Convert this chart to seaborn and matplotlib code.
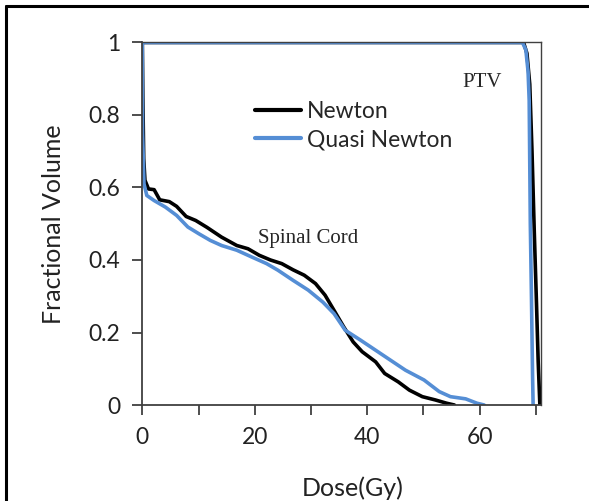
import numpy as np
import pandas as pd
import matplotlib
matplotlib.use("Agg")
import matplotlib.pyplot as plt
from matplotlib.lines import Line2D
import seaborn as sns

# ---- data ----
cord_newton_dose = [0, 0.1, 0.25, 0.47, 1.1, 2.1, 3.1, 4.8, 6.1, 7.8, 9.5, 11.5, 14.1, 16.8, 18.8,
                    20.8, 22.8, 24.8, 26.8, 28.8, 30.8, 32.5, 34.1, 35.8, 37.5, 39.1, 41.5, 43.1,
                    45.5, 47.5, 49.8, 52.1, 54.1, 55.5]
cord_newton_vol = [1.0, 0.85, 0.68, 0.62, 0.596, 0.594, 0.566, 0.561, 0.548, 0.52, 0.509, 0.49, 0.463,
                   0.44, 0.431, 0.413, 0.40, 0.39, 0.373, 0.358, 0.335, 0.303, 0.261, 0.216, 0.174,
                   0.147, 0.119, 0.087, 0.064, 0.041, 0.023, 0.014, 0.005, 0.0]

cord_quasi_dose = [0, 0.05, 0.3, 0.8, 2.1, 4.1, 6.1, 8.1, 10.1, 12.1, 14.1, 16.8, 19.5, 22.1, 24.1,
                   26.8, 29.5, 32.1, 34.1, 36.1, 38.8, 41.5, 44.1, 46.8, 50.1, 52.8, 54.8, 57.5,
                   59.5, 60.8]
cord_quasi_vol = [1.0, 0.75, 0.61, 0.578, 0.564, 0.546, 0.523, 0.491, 0.472, 0.454, 0.44, 0.427,
                  0.408, 0.39, 0.372, 0.344, 0.317, 0.284, 0.252, 0.206, 0.179, 0.151, 0.124, 0.096,
                  0.069, 0.037, 0.023, 0.017, 0.005, 0.0]

ptv_newton_dose = [0, 67.8, 68.4, 68.9, 69.3, 69.7, 70.1, 70.4, 70.7]
ptv_newton_vol = [1.0, 1.0, 0.97, 0.885, 0.7, 0.48, 0.28, 0.12, 0.0]

ptv_quasi_dose = [0, 67.6, 68.2, 68.6, 68.8, 69.0, 69.2, 69.4, 69.5]
ptv_quasi_vol = [1.0, 1.0, 0.98, 0.92, 0.84, 0.5, 0.3, 0.08, 0.0]

methods = ["Newton", "Quasi Newton"]
colors = {"Newton": "#000000", "Quasi Newton": "#558ED5"}
xticks = [0, 10, 20, 30, 40, 50, 60, 70]
xticklabels = ["0", "", "20", "", "40", "", "60", ""]
yticks = [0, 0.2, 0.4, 0.6, 0.8, 1.0]
yticklabels = ["0", "0.2", "0.4", "0.6", "0.8", "1"]


def frame(method, structure, dose, vol):
    return pd.DataFrame({"dose": dose, "vol": vol, "method": method, "structure": structure})


df = pd.concat([
    frame("Newton", "Spinal Cord", cord_newton_dose, cord_newton_vol),
    frame("Newton", "PTV", ptv_newton_dose, ptv_newton_vol),
    frame("Quasi Newton", "Spinal Cord", cord_quasi_dose, cord_quasi_vol),
    frame("Quasi Newton", "PTV", ptv_quasi_dose, ptv_quasi_vol),
], ignore_index=True)

sns.set_style("white")
plt.rcParams["font.family"] = ["Lato", "DejaVu Sans"]

fig = plt.figure(figsize=(5.89, 5.01), dpi=100)
ax = fig.add_axes([0.2416, 0.1916, 0.9185 - 0.2416, 0.9152 - 0.1916])

for m in methods:
    sub = df[df["method"] == m]
    sns.lineplot(data=sub, x="dose", y="vol", units="structure", estimator=None, sort=False,
                 color=colors[m], linewidth=2.6, ax=ax, legend=False)

ax.set_xlim(0, 70.9)
ax.set_ylim(0, 1)
ax.set_xticks(xticks)
ax.set_xticklabels(xticklabels)
ax.set_yticks(yticks)
ax.set_yticklabels(yticklabels)
ax.tick_params(axis="both", direction="out", length=7, width=1.3, color="#404040",
               labelsize=16.5, pad=9, bottom=True, left=True, labelcolor="#222222")
for s in ["left", "bottom"]:
    ax.spines[s].set_color("#404040")
    ax.spines[s].set_linewidth(1.3)
for s in ["top", "right"]:
    ax.spines[s].set_color("#404040")
    ax.spines[s].set_linewidth(1.0)

ax.set_xlabel("Dose(Gy)", fontsize=18, color="#222222", labelpad=20)
ax.xaxis.label.set_x(0.528)
ax.set_ylabel("Fractional Volume", fontsize=18, color="#222222", labelpad=17)

handles = [Line2D([], [], color=colors[m], linewidth=3) for m in methods]
ax.legend(handles, methods, loc="center left", bbox_to_anchor=(0.283, 0.770), frameon=False,
          fontsize=16.5, handlelength=2.0, handletextpad=0.25, labelspacing=0.3,
          borderpad=0, borderaxespad=0)

ax.text(57.0, 0.89, "PTV", family="Liberation Serif", fontsize=15, va="center", ha="left")
ax.text(20.5, 0.46, "Spinal Cord", family="Liberation Serif", fontsize=15, va="center", ha="left")

# figure border (top and left, as in reference)
fig.add_artist(Line2D([0.011, 1.0], [0.989, 0.989], transform=fig.transFigure, color="black", linewidth=2.2))
fig.add_artist(Line2D([0.011, 0.011], [0.0, 0.989], transform=fig.transFigure, color="black", linewidth=2.2))

fig.savefig("out.png", dpi=100)
